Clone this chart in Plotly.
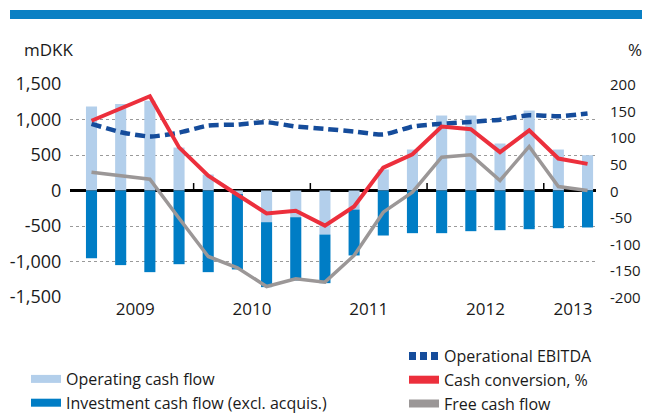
import plotly.graph_objects as go

# ---------------- data ----------------
quarters = ["Q1 2009", "Q2 2009", "Q3 2009", "Q4 2009",
            "Q1 2010", "Q2 2010", "Q3 2010", "Q4 2010",
            "Q1 2011", "Q2 2011", "Q3 2011", "Q4 2011",
            "Q1 2012", "Q2 2012", "Q3 2012", "Q4 2012",
            "Q1 2013", "Q2 2013"]
operating_cf = [1183, 1220, 1265, 605, 225, -50, -446, -376, -620, -268,
                296, 577, 1056, 1056, 662, 1126, 577, 497]
investment_cf = [-953, -1051, -1150, -1038, -1150, -1062, -915, -891, -685, -647,
                 -634, -601, -601, -573, -559, -545, -531, -521]
free_cf = [258, 205, 160, -390, -929, -1089, -1352, -1244, -1291, -915,
           -305, -24, 469, 502, 141, 620, 56, 0]
ebitda = [939, 821, 760, 814, 915, 929, 962, 901, 868, 830,
          788, 900, 939, 966, 998, 1060, 1045, 1085]
cash_conversion = [131, 153, 177, 81, 28, -8, -43, -38, -66, -30,
                   43, 68, 120, 115, 72, 113, 60, 50]

left_ticks = [-1500, -1000, -500, 0, 500, 1000, 1500]
left_tick_labels = ["-1,500", "-1,000", "-500", "0", "500", "1,000", "1,500"]
right_ticks = [-200, -150, -100, -50, 0, 50, 100, 150, 200]
right_tick_labels = ["-200", "-150", "-100", "-50", "0", "50", "100", "150", "200"]

# ---------------- styles ----------------
FONT = "Open Sans"
TXT = "#1a1a1a"
LIGHT = "#b3cfeb"
DARK = "#007dc5"
RED = "#ec2f3c"
GRAY = "#9b9797"
NAVY = "#154c9b"
BAND = "#0a80c4"

x_pos = list(range(len(quarters)))
q_year = [q.split()[1] for q in quarters]
years = []
for y in q_year:
    if y not in years:
        years.append(y)
year_centers = []
for y in years:
    idx = [i for i, v in enumerate(q_year) if v == y]
    year_centers.append(sum(idx) / len(idx))
year_bounds = [i - 0.5 for i in range(1, len(q_year)) if q_year[i] != q_year[i - 1]]

fig = go.Figure()
BW = 0.38
fig.add_bar(x=x_pos, y=operating_cf, width=BW, marker=dict(color=LIGHT, line_width=0),
            name="Operating cash flow", showlegend=False)
fig.add_bar(x=x_pos, y=investment_cf, width=BW, marker=dict(color=DARK, line_width=0),
            name="Investment cash flow (excl. acquis.)", showlegend=False)
fig.add_scatter(x=x_pos, y=free_cf, mode="lines", line=dict(color=GRAY, width=3.5),
                name="Free cash flow", showlegend=False)
fig.add_scatter(x=x_pos, y=ebitda, mode="lines",
                line=dict(color=NAVY, width=4.5, dash="10px,5px", shape="spline", smoothing=0.5),
                name="Operational EBITDA", showlegend=False)
fig.add_scatter(x=x_pos, y=cash_conversion, yaxis="y2", mode="lines",
                line=dict(color=RED, width=4), name="Cash conversion, %", showlegend=False)

# legend entries
def leg(name, color, legend, dash="solid"):
    fig.add_scatter(x=[None], y=[None], mode="lines", name=name, legend=legend,
                    line=dict(color=color, width=8, dash=dash), showlegend=True)

leg("Operating cash flow", LIGHT, "legend")
leg("Investment cash flow (excl. acquis.)", DARK, "legend")
leg("Operational EBITDA", NAVY, "legend2", dash="7px,4px")
leg("Cash conversion, %", RED, "legend2")
leg("Free cash flow", GRAY, "legend2")

# page body has an 8px margin: figure is placed at (8, 8) in the window
OFF = 8
W, H = 650 - OFF, 414 - OFF
PLOT_L, PLOT_R, PLOT_T, PLOT_B = 70, 596, 84, 297   # plot area in window px
ML = PLOT_L - OFF
MT = PLOT_T - OFF
MR = W - (PLOT_R - OFF)
MB = H - (PLOT_B - OFF)
pw, ph = W - ML - MR, H - MT - MB

def px_x(px):
    return (px - OFF - ML) / pw

def px_y(py):
    return (H - MB - (py - OFF)) / ph

def cx(px):
    return (px - OFF) / W

def cy(py):
    return 1 - (py - OFF) / H

shapes = [
    dict(type="rect", xref="paper", yref="paper", x0=px_x(10), x1=px_x(650),
         y0=px_y(19), y1=px_y(10), fillcolor=BAND, line_width=0, layer="above"),
]
for b in year_bounds:
    shapes.append(dict(type="line", xref="x", yref="y", x0=b, x1=b, y0=0, y1=105,
                       line=dict(color="black", width=1.5), layer="above"))

tick_font = dict(size=18, family=FONT, color=TXT)
right_tick_font = dict(size=15, family=FONT, color=TXT)
annotations = [
    dict(text="mDKK", xref="paper", yref="paper", x=px_x(22), y=px_y(50),
         xanchor="left", yanchor="middle", showarrow=False,
         font=dict(size=17, family=FONT, color=TXT)),
    dict(text="%", xref="paper", yref="paper", x=px_x(644), y=px_y(50),
         xanchor="right", yanchor="middle", showarrow=False,
         font=dict(size=17, family=FONT, color=TXT)),
]
# right-axis tick labels placed on the y2 scale
for v, t in zip(right_ticks, right_tick_labels):
    annotations.append(dict(text=t, xref="paper", yref="y2", x=px_x(609), y=v,
                            xanchor="left", yanchor="middle", showarrow=False,
                            borderpad=0, font=right_tick_font))

legend_font = dict(family=FONT, size=16, color=TXT)
fig.update_layout(
    width=W, height=H,
    margin=dict(l=ML, r=MR, t=MT, b=MB, autoexpand=False),
    paper_bgcolor="white", plot_bgcolor="white",
    barmode="relative",
    font=dict(family=FONT, color=TXT),
    xaxis=dict(range=[-0.737, len(quarters) - 1 + 0.29], tickvals=year_centers, ticktext=years,
               showgrid=False, zeroline=False, showline=False, ticks="", automargin=False,
               tickfont=dict(size=17, family=FONT, color=TXT)),
    yaxis=dict(range=[-1500, 1500], tickvals=left_ticks, ticktext=left_tick_labels,
               showgrid=True, gridcolor="#9a9a9a", griddash="dot", gridwidth=1,
               zeroline=True, zerolinecolor="black", zerolinewidth=3, layer="above traces",
               ticks="outside", ticklen=4, tickcolor="rgba(0,0,0,0)", automargin=False,
               tickfont=tick_font),
    yaxis2=dict(range=[-200, 200], tickvals=right_ticks, showticklabels=False,
                overlaying="y", side="right",
                showgrid=False, zeroline=False, showline=False, ticks="",
                automargin=False),
    legend=dict(xref="container", yref="container", x=cx(26), y=cy(362),
                xanchor="left", yanchor="top",
                font=legend_font, bgcolor="rgba(0,0,0,0)", itemwidth=30,
                tracegroupgap=0),
    legend2=dict(xref="container", yref="container", x=cx(404), y=cy(339),
                 xanchor="left", yanchor="top",
                 font=legend_font, bgcolor="rgba(0,0,0,0)", itemwidth=30,
                 tracegroupgap=0),
    shapes=shapes,
    annotations=annotations,
)

fig.write_html("out.html")
